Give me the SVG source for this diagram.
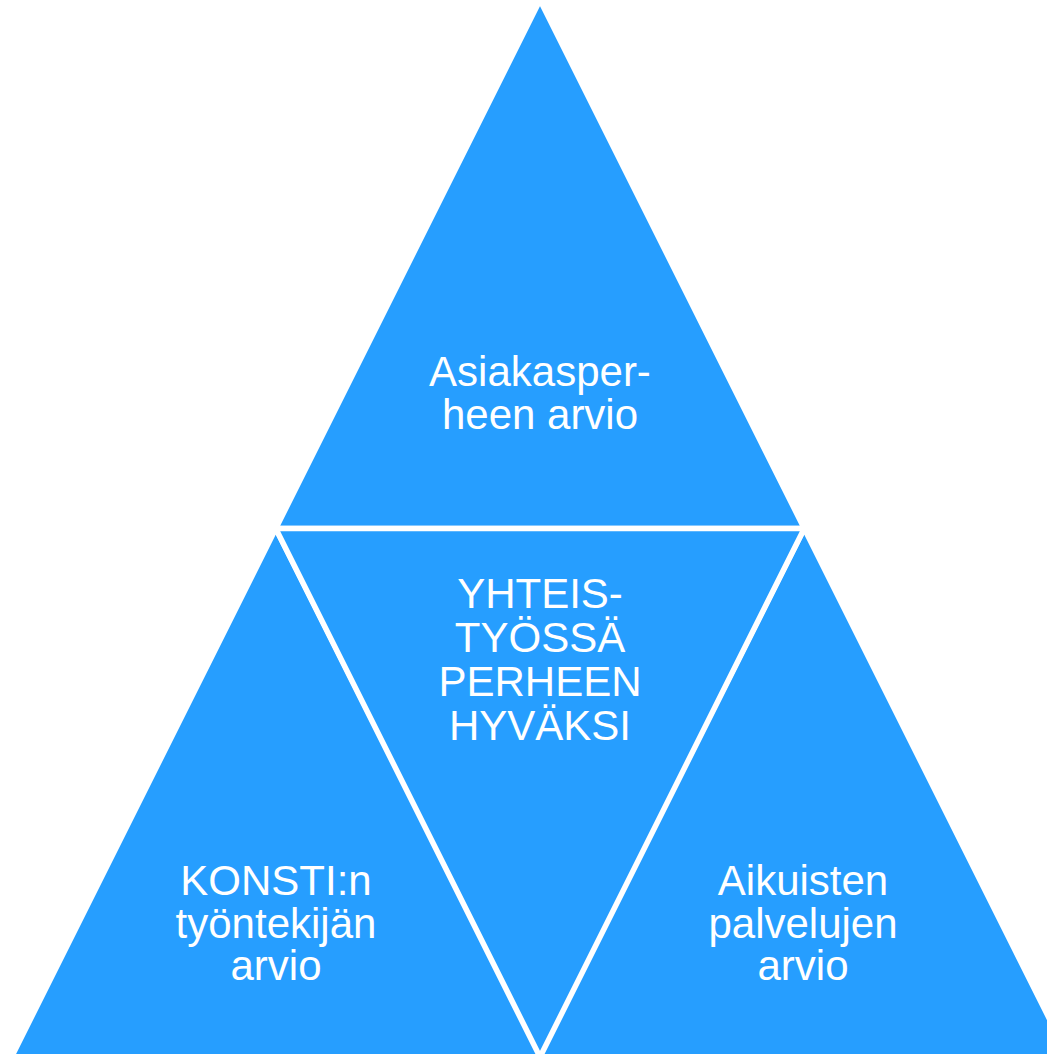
<svg xmlns="http://www.w3.org/2000/svg" width="1047" height="1054" viewBox="0 0 1047 1054">
  <style>
    .tri { fill: #269EFF; stroke: #FFFFFF; stroke-width: 5.5; stroke-linejoin: miter; }
    .lbl { fill: #FFFFFF; font-family: "Liberation Sans", Arial, sans-serif; font-size: 42px; text-anchor: middle; }
  </style>
  <rect x="0" y="0" width="1047" height="1054" fill="#FFFFFF"/>
  <g id="connectors"></g>
  <g id="node-top">
    <polygon class="tri" points="540,0 275.75,528.5 804.25,528.5"/>
    <text class="lbl" x="540" y="386">Asiakasper-</text>
    <text class="lbl" x="540" y="428.5">heen arvio</text>
  </g>
  <g id="node-left">
    <polygon class="tri" points="275.75,528.5 9,1062 544.5,1062"/>
    <text class="lbl" x="276" y="895">KONSTI:n</text>
    <text class="lbl" x="276" y="937.5">työntekijän</text>
    <text class="lbl" x="276" y="980">arvio</text>
  </g>
  <g id="node-right">
    <polygon class="tri" points="804.25,528.5 535.5,1062 1071,1062"/>
    <text class="lbl" x="803" y="894.5">Aikuisten</text>
    <text class="lbl" x="803" y="937.5">palvelujen</text>
    <text class="lbl" x="803" y="980">arvio</text>
  </g>
  <g id="node-center">
    <polygon class="tri" points="275.75,528.5 804.25,528.5 540,1057"/>
    <text class="lbl" x="540" y="607.5">YHTEIS-</text>
    <text class="lbl" x="540" y="651.8">TYÖSSÄ</text>
    <text class="lbl" x="540" y="696">PERHEEN</text>
    <text class="lbl" x="540" y="740">HYVÄKSI</text>
  </g>
</svg>
